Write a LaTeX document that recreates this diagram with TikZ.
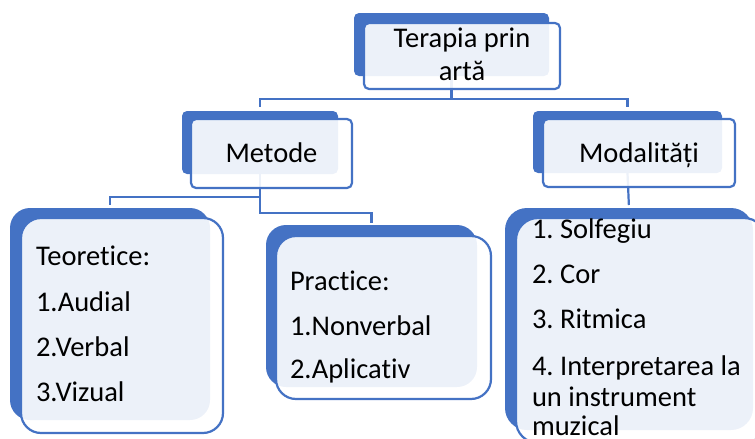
\documentclass[tikz,border=0pt]{standalone}
\usepackage{fontspec}
\setmainfont{Carlito}[Ligatures={NoCommon}]
\frenchspacing
\usetikzlibrary{backgrounds}
\definecolor{obl}{HTML}{4472C4}
\tikzset{
  backbox/.style={fill=obl, draw=none, rounded corners=#1, inner sep=0pt, outer sep=0pt, anchor=north west},
  backbox/.default=5pt,
  frontbox/.style={fill=white, fill opacity=0.9, draw=obl, draw opacity=1, line width=2.2pt, rounded corners=#1, inner sep=0pt, outer sep=0pt, anchor=north west},
  frontbox/.default=5pt,
  conn/.style={draw=obl, line width=2.2pt},
  txt/.style={font=\fontsize{28.5}{34}\selectfont\frenchspacing, inner sep=0pt, outer sep=0pt, text=black}
}
\begin{document}
\begin{tikzpicture}[x=1pt,y=-1pt]
\path[use as bounding box, clip] (0,0) rectangle (755,439);
% top box
\node[backbox, minimum width=195pt, minimum height=63pt] (topB) at (354,13) {};
\node[frontbox, minimum width=196pt, minimum height=66pt] (topF) at (364,23) {};
\node[txt, anchor=base] (topT1) at (462,47) {Terapia prin};
\node[txt, anchor=base] (topT2) at (462,80) {artă};
% Metode
\node[backbox, minimum width=156pt, minimum height=63pt] (metB) at (182,111) {};
\node[frontbox, minimum width=161pt, minimum height=69pt] (metF) at (191,119) {};
\node[txt, anchor=base] (metT) at (271.5,162) {Metode};
% Modalitati
\node[backbox, minimum width=189pt, minimum height=62pt] (modB) at (533,111) {};
\node[frontbox, minimum width=192pt, minimum height=68pt] (modF) at (543,119) {};
\node[txt, anchor=base] (modT) at (639,162) {Modalități};
% Teoretice
\node[backbox=20pt, minimum width=200pt, minimum height=212pt] (teoB) at (10,208) {};
\node[frontbox=20pt, minimum width=202pt, minimum height=215pt] (teoF) at (21,218) {};
\node[txt, anchor=base west] (teo1) at (36,265) {Teoretice:};
\node[txt, anchor=base west] (teo2) at (36,311) {1.Audial};
\node[txt, anchor=base west] (teo3) at (36,356) {2.Verbal};
\node[txt, anchor=base west] (teo4) at (36,401) {3.Vizual};
% Practice
\node[backbox=20pt, minimum width=211pt, minimum height=162pt] (praB) at (266,225) {};
\node[frontbox=20pt, minimum width=215pt, minimum height=163pt] (praF) at (276,236) {};
\node[txt, anchor=base west] (pra1) at (290,290) {Practice:};
\node[txt, anchor=base west] (pra2) at (290,335) {1.Nonverbal};
\node[txt, anchor=base west] (pra3) at (290,378) {2.Aplicativ};
% list
\node[backbox=22pt, minimum width=248pt, minimum height=222pt] (listB) at (505,208) {};
\node[frontbox=22pt, minimum width=250pt, minimum height=225pt] (listF) at (516,218) {};
\node[txt, anchor=base west] (li1) at (532,238) {1. Solfegiu};
\node[txt, anchor=base west] (li2) at (532,283) {2. Cor};
\node[txt, anchor=base west] (li3) at (532,328) {3. Ritmica};
\node[txt, anchor=base west] (li4) at (532,375) {4. Interpretarea la};
\node[txt, anchor=base west] (li5) at (532,406) {un instrument};
\node[txt, anchor=base west] (li6) at (532,435) {muzical};
% connectors
\begin{scope}[on background layer]
\draw[conn, shorten >=4pt] (topB.south) -- ++(0,23) -| (metB.north);
\draw[conn, shorten >=4pt] (topB.south) -- ++(0,23) -| (modB.north);
\draw[conn, shorten >=3pt] (metB.south) -- ++(0,23) -| (teoB.north);
\draw[conn, shorten >=2pt] (metB.south) -- ++(0,39) -| (praB.north);
\draw[conn, shorten >=3pt] (modB.south) -- (listB.north);
\end{scope}
\end{tikzpicture}
\end{document}
